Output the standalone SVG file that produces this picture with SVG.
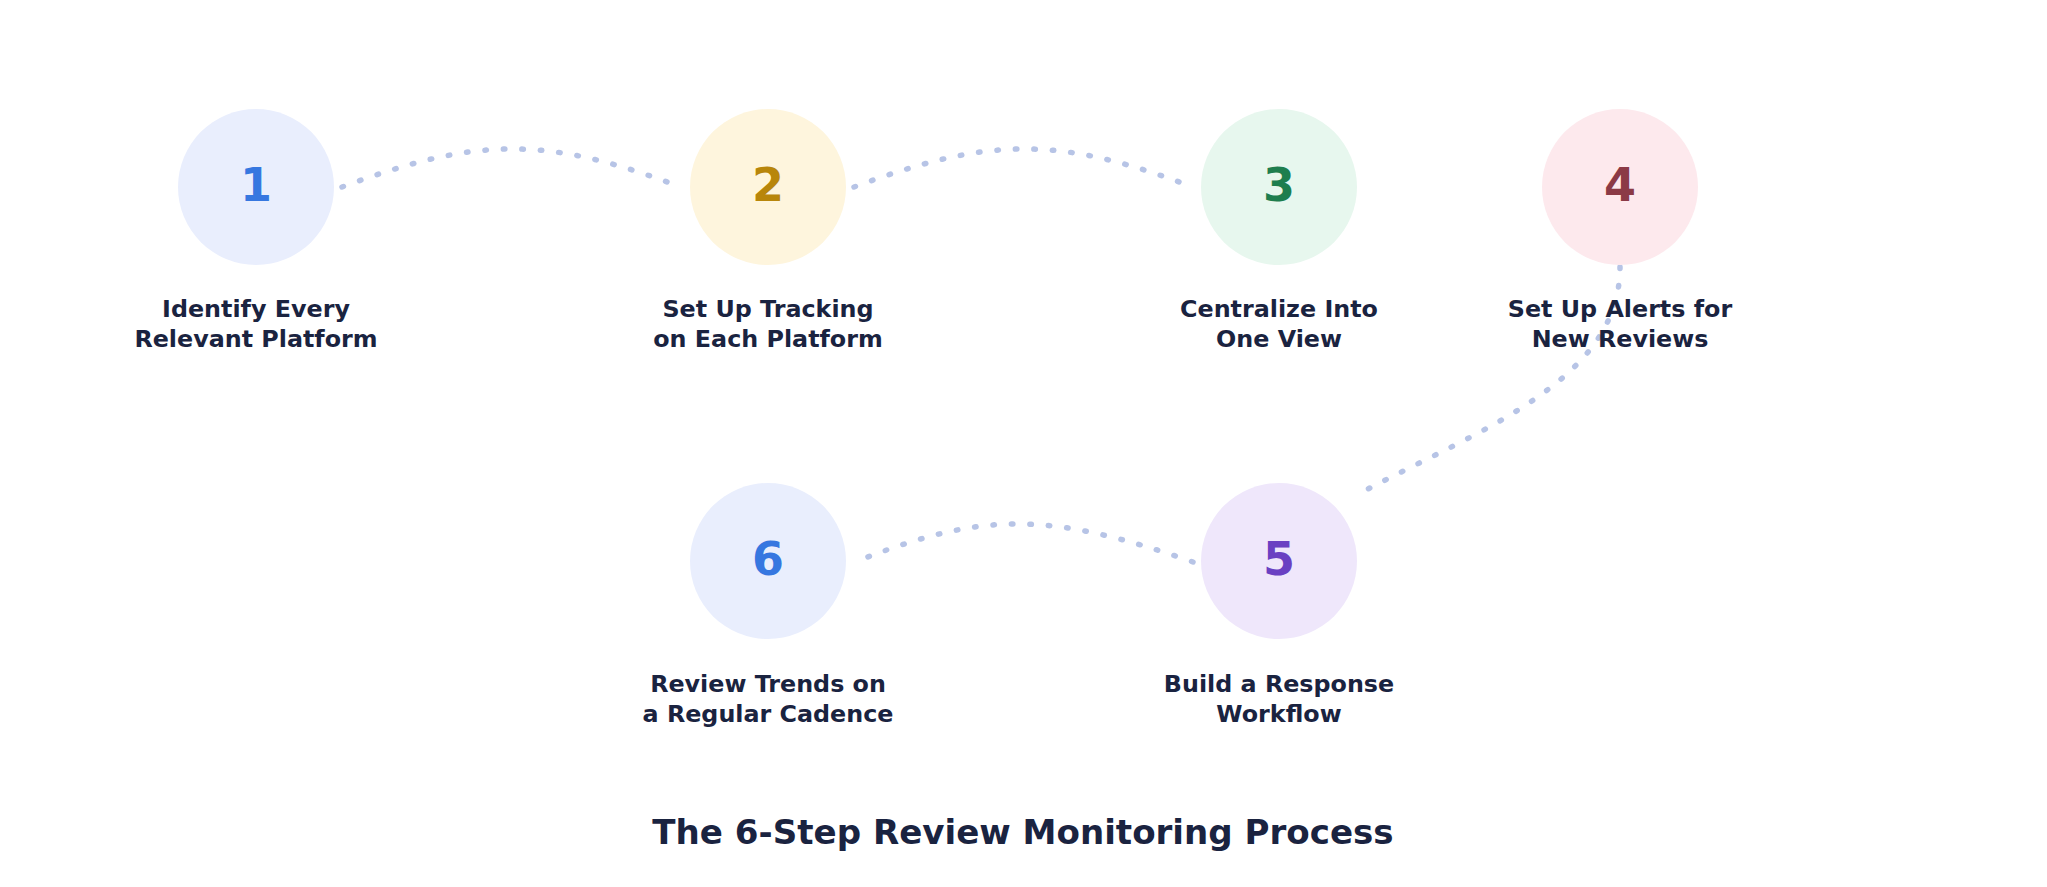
<svg xmlns="http://www.w3.org/2000/svg" width="2047" height="887" viewBox="0 0 2047 887">
<style>
.lbl{font-family:"DejaVu Sans","Liberation Sans",sans-serif;font-weight:bold;font-size:23.8px;fill:#1a2340;text-anchor:middle}
.num{font-family:"DejaVu Sans","Liberation Sans",sans-serif;font-weight:bold;font-size:46px;text-anchor:middle}
.title{font-family:"DejaVu Sans","Liberation Sans",sans-serif;font-weight:bold;font-size:34.1px;fill:#1a2340;text-anchor:middle}
.conn{fill:none;stroke:#b7c4e6;stroke-width:5.5;stroke-linecap:round;stroke-dasharray:1.5 17}
</style>
<rect width="2047" height="887" fill="#ffffff"/>
<g id="connectors">
<path class="conn" d="M342,187 C472,139 540,135 670,183"/>
<path class="conn" d="M854,187 C984,139 1052,135 1182,183"/>
<path class="conn" d="M1620,267 C1620,380 1480,430 1366,490"/>
<path class="conn" d="M1193,562 C1050,512 985,512 865,558"/>
</g>
<g id="node1">
<circle cx="256" cy="187" r="78" fill="#e9eefd"/>
<text class="num" x="256" y="201" fill="#3677e0">1</text>
<text class="lbl" x="256" y="317">Identify Every</text>
<text class="lbl" x="256" y="347">Relevant Platform</text>
</g>
<g id="node2">
<circle cx="768" cy="187" r="78" fill="#fef5dd"/>
<text class="num" x="768" y="201" fill="#b8860b">2</text>
<text class="lbl" x="768" y="317">Set Up Tracking</text>
<text class="lbl" x="768" y="347">on Each Platform</text>
</g>
<g id="node3">
<circle cx="1279" cy="187" r="78" fill="#e7f7ee"/>
<text class="num" x="1279" y="201" fill="#1e7e4e">3</text>
<text class="lbl" x="1279" y="317">Centralize Into</text>
<text class="lbl" x="1279" y="347">One View</text>
</g>
<g id="node4">
<circle cx="1620" cy="187" r="78" fill="#fde9ed"/>
<text class="num" x="1620" y="201" fill="#8b3a46">4</text>
<text class="lbl" x="1620" y="317">Set Up Alerts for</text>
<text class="lbl" x="1620" y="347">New Reviews</text>
</g>
<g id="node5">
<circle cx="1279" cy="561" r="78" fill="#efe7fb"/>
<text class="num" x="1279" y="575" fill="#6a40c2">5</text>
<text class="lbl" x="1279" y="692">Build a Response</text>
<text class="lbl" x="1279" y="722">Workflow</text>
</g>
<g id="node6">
<circle cx="768" cy="561" r="78" fill="#e9eefd"/>
<text class="num" x="768" y="575" fill="#3677e0">6</text>
<text class="lbl" x="768" y="692">Review Trends on</text>
<text class="lbl" x="768" y="722">a Regular Cadence</text>
</g>
<text class="title" x="1023" y="844">The 6-Step Review Monitoring Process</text>
</svg>
